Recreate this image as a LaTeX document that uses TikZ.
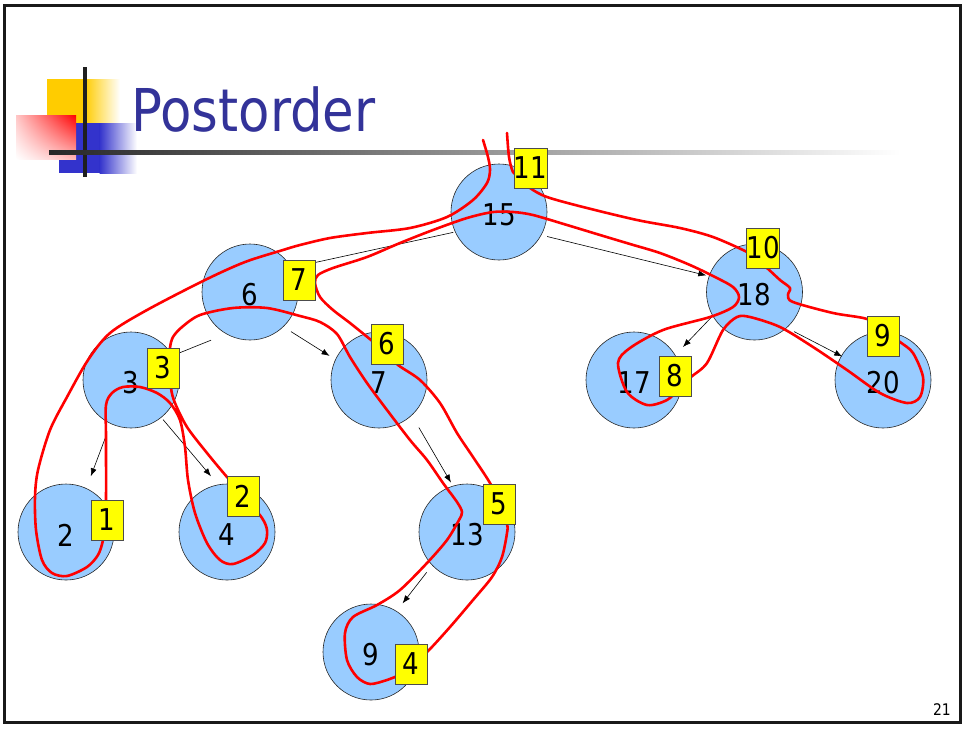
\documentclass[tikz,border=0pt]{standalone}
\usepackage{fontspec}
\usetikzlibrary{arrows.meta,shadings}
\newfontfamily\slidefont[FakeStretch=0.87]{DejaVu Sans}
\definecolor{nodeblue}{HTML}{99CCFF}
\definecolor{titleblue}{HTML}{333399}
\definecolor{logoyellow}{HTML}{FFCC00}
\definecolor{logoblue}{HTML}{3333CC}
\definecolor{boxyellow}{HTML}{FFFF00}
\tikzset{
  vert/.style={circle, draw=black!85, line width=0.6pt, fill=nodeblue,
    minimum size=96pt, inner sep=0pt},
  numtext/.style={font=\slidefont\fontsize{30}{34}\selectfont, inner sep=0pt, yshift=-3pt},
  numbox/.style={draw=black!70, line width=0.6pt, fill=boxyellow,
    minimum width=32pt, minimum height=40pt, inner sep=0pt,
    font=\slidefont\fontsize{30}{34}\selectfont},
  arr/.style={line width=0.6pt, -{Latex[length=8pt,width=6pt]}},
  walk/.style={red, line width=2.6pt, line cap=round, line join=round},
}
\begin{document}
\begin{tikzpicture}[x=1pt, y=-1pt]
\useasboundingbox (0,0) rectangle (965,729);
\fill[white] (0,0) rectangle (965,729);
% slide frame
\draw[black!90, line width=2.7pt] (4.5,5.3) rectangle (960.5,722.3);

% title decoration
\fill[logoyellow] (47,79) rectangle (85,123);
\shade[left color=logoyellow, right color=white] (84.5,79) rectangle (120,123);
\fill[logoblue] (59,123) rectangle (100,173);
\shade[left color=logoblue, right color=white] (99.5,123) rectangle (137,173);
\shade[upper right=red, upper left=red!22, lower right=red!28, lower left=white]
  (16,115) rectangle (76,159);
\fill[black!88] (83,67) rectangle (87,177);
\shade[left color=black!85, right color=white] (49,150) rectangle (900,154);
\node[anchor=base west, inner sep=0pt, text=titleblue,
  font=\slidefont\fontsize{59}{64}\selectfont] (title) at (131,131) {Postorder};

% tree vertices
\node[vert, label={[numtext]center:15}] (n15) at (499,212) {};
\node[vert, label={[numtext]center:6}]  (n6)  at (250,292) {};
\node[vert, label={[numtext]center:18}] (n18) at (754.5,292) {};
\node[vert, label={[numtext]center:3}]  (n3)  at (131,380) {};
\node[vert, label={[numtext]center:7}]  (n7)  at (379,380) {};
\node[vert, label={[numtext]center:17}] (n17) at (634,380) {};
\node[vert, label={[numtext]center:20}] (n20) at (883,380) {};
\node[vert, label={[numtext]center:2}]  (n2)  at (66,532) {};
\node[vert, label={[numtext]center:4}]  (n4)  at (227,532) {};
\node[vert, label={[numtext]center:13}] (n13) at (467,532) {};
\node[vert, label={[numtext]center:9}]  (n9)  at (371,652) {};

% parent -> child links
\draw[arr] ([shift={(-156:50pt)}]n15.center) -- ([shift={(29:52pt)}]n6.center);
\draw[arr] ([shift={(-27:54pt)}]n15.center) -- ([shift={(161:51pt)}]n18.center);
\draw[arr] ([shift={(-129:62pt)}]n6.center) -- ([shift={(31:45pt)}]n3.center);
\draw[arr] ([shift={(-44:57pt)}]n6.center) -- ([shift={(154:55pt)}]n7.center);
\draw[arr] ([shift={(-114:62pt)}]n3.center) -- ([shift={(66:61pt)}]n2.center);
\draw[arr] ([shift={(-51:51pt)}]n3.center) -- ([shift={(106:58pt)}]n4.center);
\draw[arr] ([shift={(-50:62pt)}]n7.center) -- ([shift={(108:52pt)}]n13.center);
\draw[arr] ([shift={(-135:57pt)}]n13.center) -- ([shift={(57:58pt)}]n9.center);
\draw[arr] ([shift={(-150:49pt)}]n18.center) -- ([shift={(34:59pt)}]n17.center);
\draw[arr] ([shift={(-45:56pt)}]n18.center) -- ([shift={(150:47pt)}]n20.center);

% traversal contour
\draw[walk] plot[smooth, tension=0.5] coordinates {
 (483,140) (488,157) (490,170) (487,183) (473,200) (447,217) (410,228)
 (367,233) (330,238) (300,245) (283,250) (245,262) (205,280) (147,310)
 (110,333) (88,360) (67,397) (50,430) (38,470) (35,497) (36,530) (42,560)
 (52,573) (67,576) (87,567) (98,555) (103,540) (105,520) (106,500)
 (106,437) (106,405) (112,393) (123,387) (140,387) (157,393) (170,403)
 (180,420) (185,447) (188,480) (195,513) (207,543) (220,560) (233,564)
 (253,555) (265,543) (267,530) (262,518) (245,497) (227,477) (207,453)
 (187,427) (175,403) (171,388) (170,365) (170,348) (173,337) (182,327)
 (200,315) (233,308) (267,308) (300,316) (320,322) (337,334) (350,357)
 (367,383) (387,410) (410,440) (427,460) (443,483) (457,502) (462,512)
 (459,520) (447,540) (427,563) (400,590) (377,605) (353,617) (345,633)
 (347,660) (357,677) (370,684) (387,680) (395,677) (411,664) (427,652)
 (450,627) (473,600) (492,577) (502,557) (507,533) (507,524) (500,504)
 (490,483) (473,457) (457,433) (440,403) (420,380) (398,365) (385,352)
 (371,340) (350,323) (333,310) (320,297) (315,283) (318,275) (333,268)
 (367,257) (400,243) (433,230) (467,218) (493,212) (513,212) (533,215)
 (567,225) (600,235) (630,244) (660,253) (690,265) (715,277) (733,287)
 (739,297) (733,307) (710,317) (663,330) (630,348) (618,363) (627,392)
 (647,405) (667,400) (680,388) (691,377) (707,363) (723,330) (737,317)
 (750,317) (780,327) (813,347) (847,370) (880,393) (907,403) (920,397)
 (923,377) (913,353) (900,342) (883,330) (867,319) (833,313) (793,302)
 (788,295) (790,288) (780,280) (767,268) (757,260) (747,252) (713,237)
 (680,228) (637,220) (583,207) (547,197) (530,188) (520,178) (513,172)
 (509,157) (507,133)};

% visit order tags
\node[numbox] (b1)  at (107,520) {1};
\node[numbox] (b2)  at (243,496) {2};
\node[numbox] (b3)  at (163,368) {3};
\node[numbox] (b4)  at (411,664) {4};
\node[numbox] (b5)  at (499,504) {5};
\node[numbox] (b6)  at (387,344) {6};
\node[numbox] (b7)  at (299,280) {7};
\node[numbox] (b8)  at (675,376) {8};
\node[numbox] (b9)  at (883,336) {9};
\node[numbox] (b10) at (763,248) {10};
\node[numbox] (b11) at (530.5,168) {11};

% slide number
\node[anchor=base east, inner sep=0pt, font=\slidefont\fontsize{16}{18}\selectfont]
  (pagenum) at (951,715) {21};
\end{tikzpicture}
\end{document}
